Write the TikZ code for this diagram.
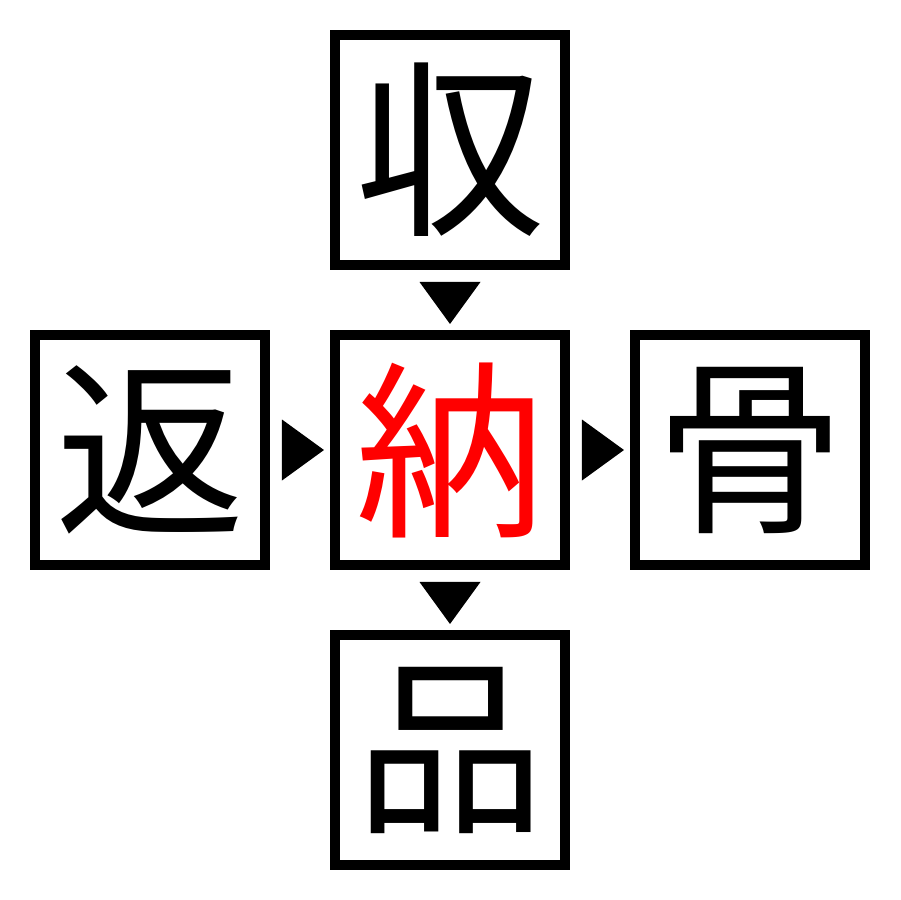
\documentclass[tikz,border=0pt]{standalone}
\usepackage{fontspec}
\newfontfamily\cjk{Noto Sans CJK JP}
\usetikzlibrary{calc}
\begin{document}
\begin{tikzpicture}[x=0.02cm,y=-0.02cm,
  kbox/.style={draw=black,line width=0.2cm,minimum size=4.6cm,inner sep=0pt,outer sep=0pt,font=\cjk\fontsize{108}{108}\selectfont},
  tri/.style={fill=black}]
\useasboundingbox (0,0) rectangle (900,900);
\node[kbox] (top) at (450,150) {収};
\node[kbox] (left) at (150,450) {返};
\node[kbox,text=red] (mid) at (450,450) {納};
\node[kbox] (right) at (750,450) {骨};
\node[kbox] (bot) at (450,750) {品};
% down triangle top->mid
\fill[tri] ($(top.south)+(-30.5,17)$) -- ($(top.south)+(30.5,17)$) -- ($(top.south)+(0,59)$) -- cycle;
% down triangle mid->bot
\fill[tri] ($(mid.south)+(-30.5,17)$) -- ($(mid.south)+(30.5,17)$) -- ($(mid.south)+(0,59)$) -- cycle;
% right triangle left->mid
\fill[tri] ($(left.east)+(17,-30.5)$) -- ($(left.east)+(17,30.5)$) -- ($(left.east)+(59,0)$) -- cycle;
% right triangle mid->right
\fill[tri] ($(mid.east)+(17,-30.5)$) -- ($(mid.east)+(17,30.5)$) -- ($(mid.east)+(59,0)$) -- cycle;
\end{tikzpicture}
\end{document}
